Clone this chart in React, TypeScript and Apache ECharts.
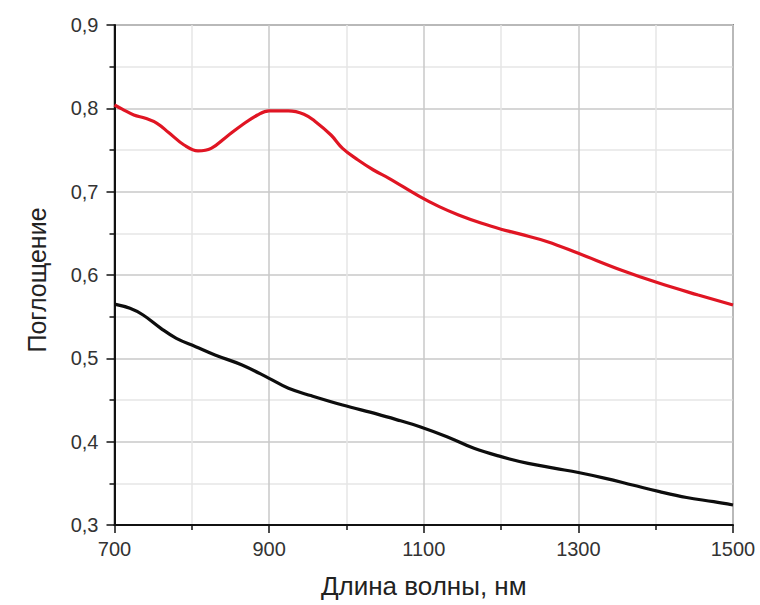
import React, { useEffect, useRef } from "react";
import * as echarts from "echarts";

// Wavelength (nm) and absorption samples for the two curves
const redWavelengths = [700, 710, 725, 740, 755, 770, 790, 808, 825, 845, 865, 885, 900, 925, 945, 960, 980, 995, 1015, 1035, 1055, 1095, 1120, 1145, 1175, 1200, 1225, 1260, 1300, 1355, 1405, 1455, 1500];
const redAbsorption = [0.804, 0.799, 0.792, 0.788, 0.782, 0.771, 0.756, 0.749, 0.752, 0.766, 0.780, 0.792, 0.797, 0.797, 0.793, 0.784, 0.768, 0.752, 0.738, 0.726, 0.716, 0.694, 0.682, 0.672, 0.662, 0.655, 0.649, 0.640, 0.626, 0.606, 0.590, 0.576, 0.564];

const blackWavelengths = [700, 720, 737, 760, 780, 805, 830, 865, 900, 925, 955, 995, 1040, 1070, 1095, 1130, 1165, 1200, 1235, 1270, 1300, 1335, 1370, 1405, 1440, 1475, 1500];
const blackAbsorption = [0.565, 0.560, 0.552, 0.536, 0.524, 0.514, 0.504, 0.492, 0.476, 0.464, 0.455, 0.444, 0.433, 0.425, 0.418, 0.406, 0.392, 0.382, 0.374, 0.368, 0.363, 0.356, 0.348, 0.340, 0.333, 0.328, 0.324];

const xTicks = { min: 700, max: 1500, step: 200 };
const yTicks = { min: 0.3, max: 0.9, step: 0.1 };

const xAxisTitle = "Длина волны, нм";
const yAxisTitle = "Поглощение";

const FONT = "'Liberation Sans', Arial, sans-serif";

function pairs(xs: number[], ys: number[]) {
  return xs.map((x, i) => [x, ys[i]]);
}

export default function App() {
  const ref = useRef<HTMLDivElement>(null);

  useEffect(() => {
    if (!ref.current) return;
    const chart = echarts.init(ref.current, undefined, { renderer: "svg" });
    chart.setOption({
      animation: false,
      backgroundColor: "#ffffff",
      grid: {
        left: 114.5,
        top: 25,
        right: 27,
        bottom: 80,
        show: true,
        borderColor: "#8a8a8a",
        borderWidth: 2,
        backgroundColor: "transparent",
      },
      xAxis: {
        type: "value",
        min: xTicks.min,
        max: xTicks.max,
        interval: xTicks.step,
        name: xAxisTitle,
        nameLocation: "middle",
        nameGap: 48,
        nameTextStyle: { fontFamily: FONT, fontSize: 26, color: "#222" },
        axisLine: { show: true, onZero: false, lineStyle: { color: "#111", width: 2 } },
        axisTick: { show: true, inside: false, length: 8, lineStyle: { color: "#111", width: 1.5 } },
        minorTick: { show: true, splitNumber: 2, length: 5, lineStyle: { color: "#111", width: 1.5 } },
        axisLabel: {
          fontFamily: FONT,
          fontSize: 20,
          color: "#333",
          margin: 14,
          formatter: (v: number) => String(v),
        },
        splitLine: { show: true, lineStyle: { color: "#c8c8c8", width: 1.5 } },
        minorSplitLine: { show: true, lineStyle: { color: "#e6e6e6", width: 1.5 } },
      },
      yAxis: {
        type: "value",
        min: yTicks.min,
        max: yTicks.max,
        interval: yTicks.step,
        name: yAxisTitle,
        nameLocation: "middle",
        nameGap: 65,
        nameRotate: 90,
        nameTextStyle: { fontFamily: FONT, fontSize: 25, color: "#222", padding: [0, 10, 0, 0] },
        axisLine: { show: true, onZero: false, lineStyle: { color: "#111", width: 2 } },
        axisTick: { show: true, inside: false, length: 8, lineStyle: { color: "#111", width: 1.5 } },
        minorTick: { show: true, splitNumber: 2, length: 5, lineStyle: { color: "#111", width: 1.5 } },
        axisLabel: {
          fontFamily: FONT,
          fontSize: 20,
          color: "#333",
          margin: 16,
          formatter: (v: number) => v.toFixed(1).replace(".", ","),
        },
        splitLine: { show: true, lineStyle: { color: "#c8c8c8", width: 1.5 } },
        minorSplitLine: { show: true, lineStyle: { color: "#e6e6e6", width: 1.5 } },
      },
      series: [
        {
          type: "line",
          data: pairs(redWavelengths, redAbsorption),
          smooth: 0.4,
          showSymbol: false,
          lineStyle: { color: "#e01523", width: 3.2 },
        },
        {
          type: "line",
          data: pairs(blackWavelengths, blackAbsorption),
          smooth: 0.4,
          showSymbol: false,
          lineStyle: { color: "#0d0d0d", width: 3.2 },
        },
      ],
    });
    return () => chart.dispose();
  }, []);

  return (
    <div
      ref={ref}
      style={{ position: "fixed", left: 0, top: 0, width: 760, height: 605 }}
    />
  );
}
